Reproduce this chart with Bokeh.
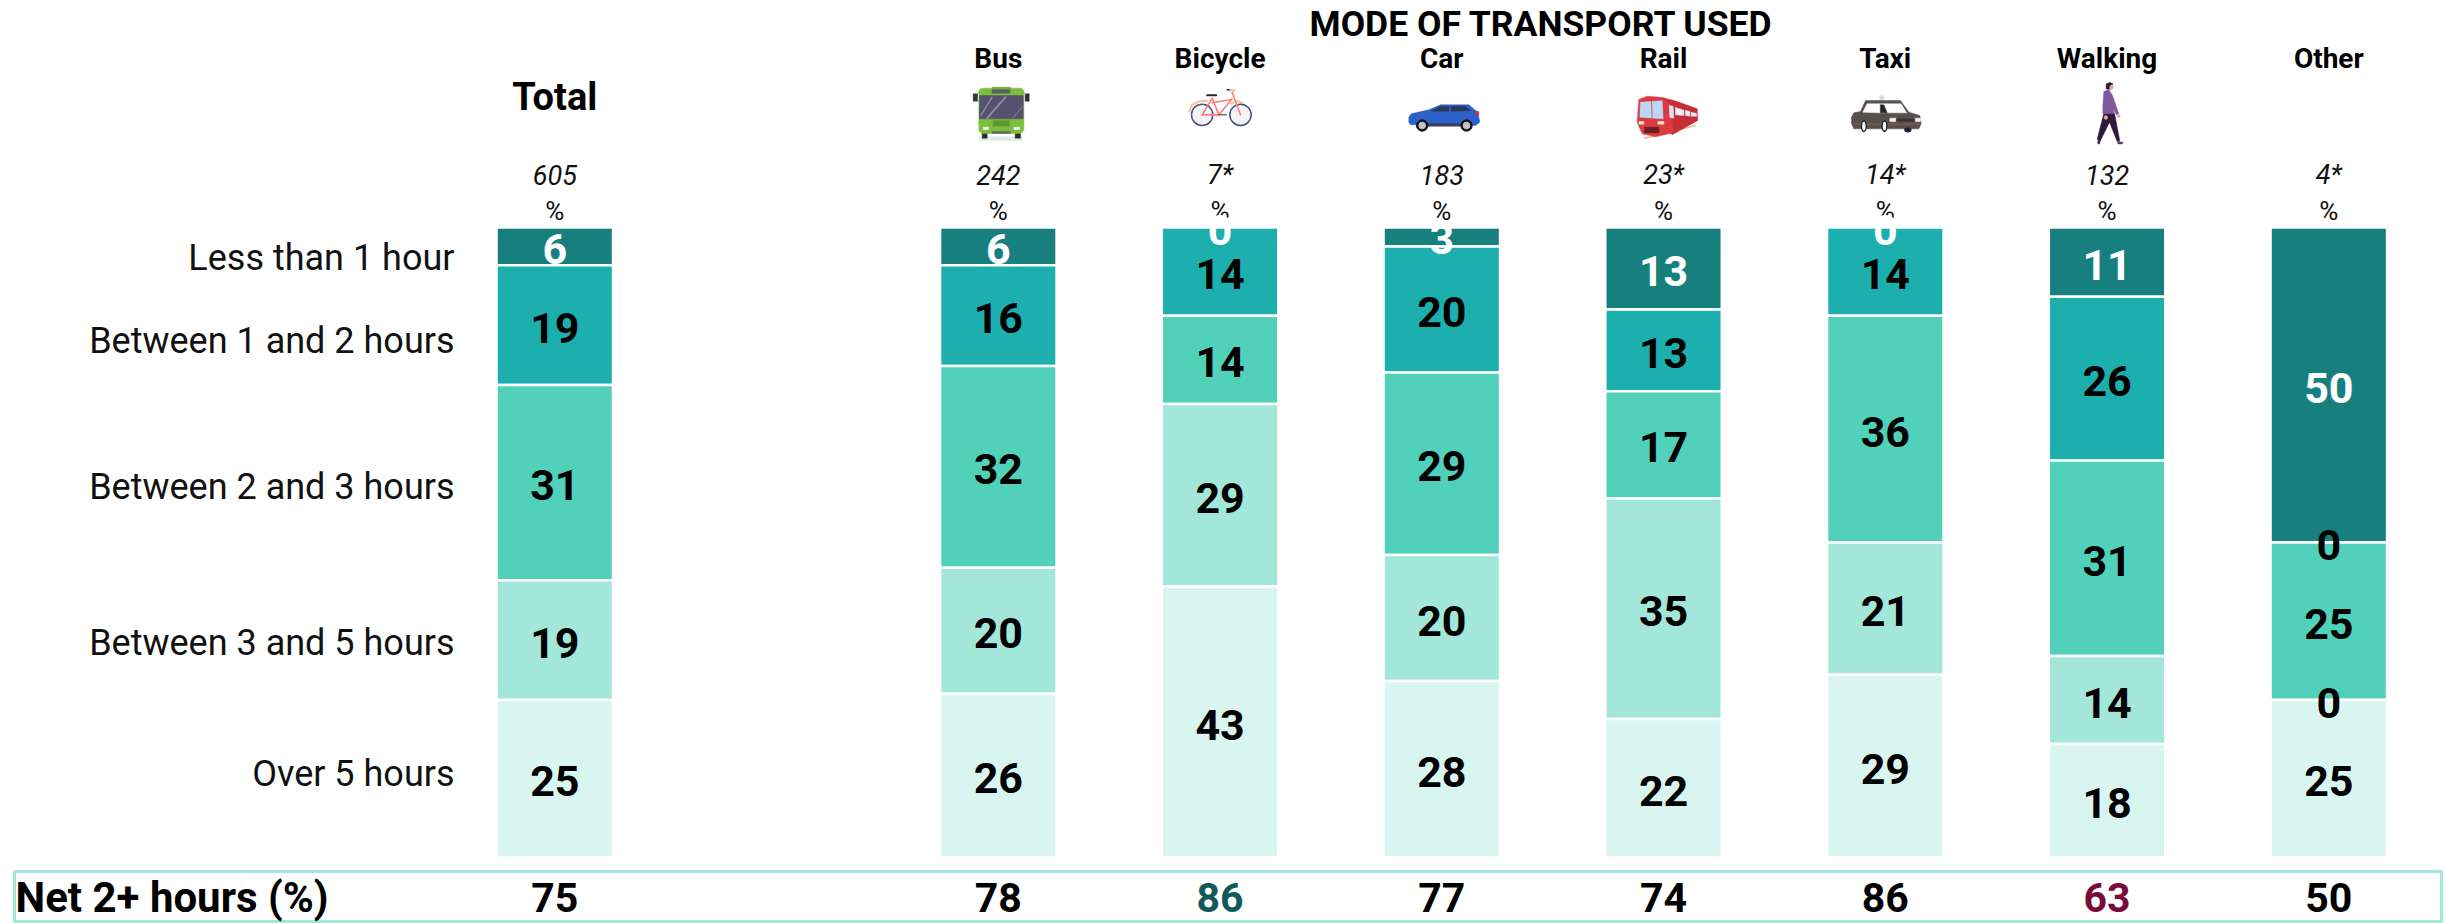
from bokeh.plotting import figure
from bokeh.models import Range1d, ColumnDataSource
from bokeh.core.properties import value
from bokeh.embed import file_html
from bokeh.resources import INLINE

# ---------- data ----------
columns = ["Total", "", "Bus", "Bicycle", "Car", "Rail", "Taxi", "Walking", "Other"]
bases = ["605", "", "242", "7*", "183", "23*", "14*", "132", "4*"]
rows = ["Less than 1 hour", "Between 1 and 2 hours", "Between 2 and 3 hours",
        "Between 3 and 5 hours", "Over 5 hours"]
less_1 = [6, None, 6, 0, 3, 13, 0, 11, 50]
h1_2 = [19, None, 16, 14, 20, 13, 14, 26, 0]
h2_3 = [31, None, 32, 14, 29, 17, 36, 31, 25]
h3_5 = [19, None, 20, 29, 20, 35, 21, 14, 0]
over_5 = [25, None, 26, 43, 28, 22, 29, 18, 25]
net = [75, None, 78, 86, 77, 74, 86, 63, 50]
net_label = "Net 2+ hours (%)"
title = "MODE OF TRANSPORT USED"
palette = ["#17807F", "#1DAFAE", "#52D1BA", "#A2E7D9", "#D9F5EF"]
net_colors = {"Bicycle": "#0F5A59", "Walking": "#7A0A3A"}

# ---------- layout (page pixels) ----------
W, H = 2445, 923
FONT = "Roboto"
SLOT = 221.75
X0 = 554.3
BAR_W = 116.5
TOP, BOT = 227.0, 857.0

xr = Range1d(-X0 / SLOT, (W - X0) / SLOT)
pxy = lambda y: (BOT - y) / (BOT - TOP) * 100
yr = Range1d(pxy(H), pxy(0))
pxx = lambda x: (x - X0) / SLOT
sy = lambda d: d / (BOT - TOP) * 100

p = figure(width=W, height=H, x_range=xr, y_range=yr, output_backend="svg",
           toolbar_location=None, min_border=0, outline_line_color=None)
p.xaxis.visible = False
p.yaxis.visible = False
p.grid.visible = False
p.background_fill_color = "#FFFFFF"
p.border_fill_color = "#FFFFFF"


def txt(x, y, s, size, color="#000000", style="normal", align="center", font=FONT):
    p.text(x=[x], y=[y], text=[s], text_font=value(font), text_font_size=f"{size}px",
           text_font_style=style, text_color=color, text_align=align, text_baseline="middle")


# header texts
txt(pxx(1541), pxy(23), title, 35.5, style="bold")
xs = list(range(len(columns)))
for i, c in enumerate(columns):
    if not c:
        continue
    if c == "Total":
        txt(i, pxy(96), c, 38, style="bold")
    else:
        txt(i, pxy(58), c, 28, style="bold")
    txt(i, pxy(174), bases[i], 27, color="#111111", style="italic")
    txt(i, pxy(210), "%", 26, color="#111111")


# ---------- icons: drawn in 3x crop coordinates around an origin ----------
class Icon:
    def __init__(self, ox, oy):
        self.ox, self.oy = ox, oy

    def X(self, v):
        return pxx(self.ox + v / 3)

    def Y(self, v):
        return pxy(self.oy + v / 3)

    def poly(self, pts, color):
        p.patch([self.X(a) for a, _ in pts], [self.Y(b) for _, b in pts],
                fill_color=color, line_color=color, line_width=0.5)

    def rect(self, x0, x1, y0, y1, color):
        self.poly([(x0, y0), (x1, y0), (x1, y1), (x0, y1)], color)

    def line(self, pts, color, w=1.0):
        p.line([self.X(a) for a, _ in pts], [self.Y(b) for _, b in pts],
               line_color=color, line_width=w, line_cap="round")

    def circ(self, cx, cy, r, fill, line=None, w=1.0):
        p.scatter(x=[self.X(cx)], y=[self.Y(cy)], size=2 * r / 3, marker="circle",
                  fill_color=fill, line_color=line or fill, line_width=w)

    def ell(self, cx, cy, rw, rh, fill):
        p.ellipse(x=[self.X(cx)], y=[self.Y(cy)], width=2 * rw / 3, height=2 * rh / 3,
                  width_units="screen", height_units="screen", fill_color=fill, line_color=None)


# Bus
b = Icon(950, 75)
b.rect(88, 215, 184, 195, "#DFEAEA")
b.rect(95, 110, 170, 188, "#2A2A38")
b.rect(194, 210, 170, 188, "#2A2A38")
b.poly([(92, 38), (213, 38), (220, 46), (220, 165), (210, 174), (95, 174), (85, 165), (85, 46)], "#7DBD3C")
b.rect(125, 180, 35, 50, "#6FAE30")
b.rect(68, 81, 55, 77, "#2E2E3E")
b.rect(224, 236, 55, 77, "#2E2E3E")
b.line([(80, 55), (88, 48)], "#7DBD3C", 1)
b.line([(224, 55), (216, 48)], "#7DBD3C", 1)
b.rect(87, 218, 60, 130, "#55516E")
b.rect(125, 178, 43, 53, "#5C5C6C")
b.line([(92, 118), (125, 65)], "#8B89A8", 1.5)
b.line([(110, 128), (165, 65)], "#8B89A8", 2)
b.line([(190, 125), (215, 95)], "#8B89A8", 1)
b.rect(128, 176, 136, 152, "#5D9A2E")
b.rect(98, 114, 155, 162, "#F4F4F4")
b.rect(190, 207, 155, 162, "#F4F4F4")
b.rect(125, 180, 168, 174, "#666670")

# Bicycle
b = Icon(950, 75)
b.line([(716, 108), (725, 88), (745, 78), (770, 76)], "#EFC5A0", 2)
b.line([(840, 85), (860, 76), (877, 82)], "#EFC5A0", 2)
b.circ(755, 118, 32, "#F4F4F6", "#4A4F86", 1.5)
b.circ(870, 118, 32, "#F4F4F6", "#4A4F86", 1.5)
for seg in ([(755, 118), (785, 68), (805, 118), (755, 118)],
            [(785, 82), (842, 72)],
            [(805, 118), (845, 70)],
            [(845, 50), (870, 118)]):
    b.line(seg, "#FF7B7B", 1.6)
b.line([(770, 59), (797, 59)], "#25252F", 2)
b.line([(830, 43), (840, 43)], "#25252F", 1.5)
b.line([(840, 43), (853, 46)], "#EFC5A0", 2)
b.line([(805, 118), (828, 118)], "#2A2A38", 1)

# Car
b = Icon(1390, 75)
b.poly([(55, 125), (62, 115), (115, 103), (150, 88), (235, 88), (262, 110), (268, 140), (255, 150),
        (60, 148), (55, 140)], "#2A62C8")
b.poly([(122, 107), (150, 92), (175, 92), (175, 107)], "#2D3A55")
b.poly([(182, 107), (182, 92), (222, 92), (240, 105)], "#2D3A55")
b.rect(110, 210, 145, 152, "#3A3F55")
b.rect(255, 265, 108, 118, "#D22B4A")
for cx in (95, 228):
    b.circ(cx, 150, 17, "#111116")
    b.circ(cx, 150, 10, "#C4C4C8")

# Rail
b = Icon(1390, 75)
b.line([(762, 188), (915, 150)], "#D8C08C", 1.5)
b.poly([(815, 66), (860, 78), (920, 100), (922, 135), (880, 158), (845, 178), (820, 150)], "#C62D34")
b.poly([(745, 72), (770, 62), (815, 66), (838, 85), (848, 172), (795, 184), (755, 175), (740, 140)], "#DB3A40")
b.poly([(750, 80), (815, 76), (818, 130), (748, 125)], "#BCD6F6")
b.line([(783, 78), (785, 128)], "#DB3A40", 0.8)
b.rect(762, 805, 155, 172, "#6A1C22")
b.rect(745, 760, 138, 146, "#F5E9C8")
b.rect(802, 820, 138, 146, "#F5E9C8")
b.poly([(836, 90), (848, 92), (850, 128), (838, 126)], "#D6E4F8")
b.poly([(855, 96), (880, 104), (880, 120), (855, 118)], "#E8EEF8")
b.poly([(885, 104), (898, 108), (898, 122), (885, 120)], "#E8EEF8")
b.poly([(902, 110), (918, 114), (918, 122), (902, 122)], "#E8EEF8")

# Taxi
b = Icon(1830, 75)
b.circ(154, 67, 7, "#DADAE2")
b.poly([(63, 125), (70, 112), (90, 108), (105, 75), (210, 75), (235, 110), (268, 120), (272, 145),
        (265, 160), (70, 160), (63, 145)], "#5A4F50")
b.poly([(97, 110), (110, 85), (148, 85), (148, 112)], "#FFFFFF")
b.poly([(150, 85), (212, 85), (228, 112), (150, 112)], "#FFFFFF")
b.poly([(150, 88), (160, 88), (170, 112), (150, 112)], "#23232B")
b.rect(178, 197, 128, 138, "#F7F7F7")
b.rect(253, 270, 128, 138, "#F7F7F7")
b.rect(197, 253, 130, 137, "#3A3434")
b.line([(70, 146), (270, 146)], "#8A7030", 0.8)
b.ell(100, 152, 9, 18, "#1E2436")
b.ell(100, 152, 5, 13, "#FFFFFF")
b.ell(162, 152, 9, 18, "#1E2436")
b.ell(162, 152, 5, 13, "#FFFFFF")
b.ell(232, 163, 11, 8, "#1E2436")

# Walking person
b = Icon(2040, 75)
b.poly([(190, 113), (222, 113), (238, 197), (230, 198), (207, 140), (179, 197), (170, 192)], "#2C1B3C")
b.poly([(190, 48), (205, 42), (216, 60), (235, 115), (228, 118), (218, 100), (221, 114), (187, 114), (187, 90)], "#7E5A9B")
b.circ(208, 33, 10, "#F0A58F")
b.poly([(197, 25), (208, 21), (218, 25), (208, 30), (205, 42), (197, 40)], "#2B1E3A")
b.circ(196, 126, 5, "#F0A58F")
b.circ(235, 122, 3.5, "#F0A58F")
b.rect(172, 178, 196, 205, "#2B1E3A")
b.rect(232, 246, 200, 205, "#2B1E3A")

# stacked segments
series = [less_1, h1_2, h2_3, h3_5, over_5]
cols = [i for i in xs if columns[i]]
remaining = {i: 100.0 for i in cols}
for k, vals in enumerate(series):
    t, bt = [], []
    for i in cols:
        t.append(remaining[i])
        bt.append(remaining[i] - vals[i])
        remaining[i] -= vals[i]
    src = ColumnDataSource(dict(x=cols, top=t, bottom=bt))
    p.vbar(x="x", top="top", bottom="bottom", width=BAR_W / SLOT, source=src,
           fill_color=palette[k], line_color="#FFFFFF", line_width=2.5)

# labels on top of all bars
remaining = {i: 100.0 for i in cols}
label_dy = sy(-2.5)
for k, vals in enumerate(series):
    ly, lt = [], []
    for i in cols:
        v = vals[i]
        ly.append(remaining[i] - v / 2 + label_dy)
        lt.append(str(v))
        remaining[i] -= v
    p.text(x=cols, y=ly, text=lt, text_font=value(FONT), text_font_size="43px",
           text_font_style="bold", text_color="#FFFFFF" if k == 0 else "#000000",
           text_align="center", text_baseline="middle")

# row labels
row_y = [257, 340, 486, 642, 773]
for r, y in zip(rows, row_y):
    txt(pxx(454), pxy(y), r, 36, color="#111111", align="right")

# net box
p.quad(left=[pxx(14)], right=[pxx(2441)], top=[pxy(871)], bottom=[pxy(921)],
       fill_color=None, line_color="#A2E7D9", line_width=3)
txt(pxx(15), pxy(897), net_label, 42, style="bold", align="left")
for i, c in enumerate(columns):
    if c:
        txt(i, pxy(897), str(net[i]), 41, style="bold", color=net_colors.get(c, "#000000"))

open("out.html", "w").write(file_html(p, INLINE))
